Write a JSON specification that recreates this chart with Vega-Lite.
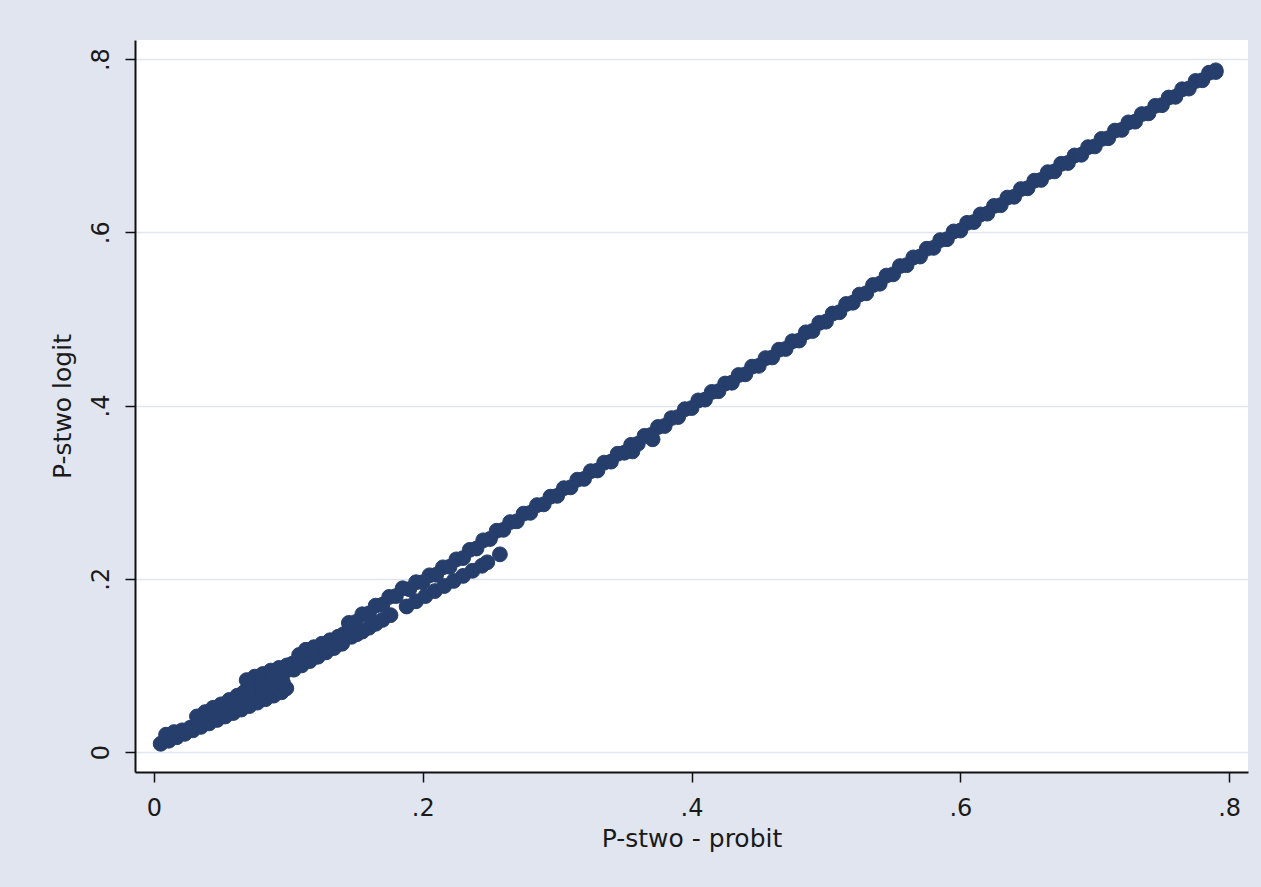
{
  "$schema": "https://vega.github.io/schema/vega-lite/v6.json",
  "width": 1113,
  "height": 732,
  "autosize": {"type": "none"},
  "padding": {"left": 135, "top": 40, "right": 13, "bottom": 115},
  "background": "#e1e5f0",
  "config": {"view": {"fill": "white", "stroke": null}, "font": "DejaVu Sans"},
  "data": {"values": [
    {"probit":0.005,"logit":0.0095},{"probit":0.011,"logit":0.013},{"probit":0.017,"logit":0.017},{"probit":0.023,"logit":0.021},{"probit":0.029,"logit":0.025},{"probit":0.035,"logit":0.029},{"probit":0.041,"logit":0.033},{"probit":0.047,"logit":0.037},{"probit":0.053,"logit":0.041},{"probit":0.059,"logit":0.045},{"probit":0.065,"logit":0.049},{"probit":0.071,"logit":0.053},{"probit":0.077,"logit":0.057},{"probit":0.083,"logit":0.061},{"probit":0.089,"logit":0.065},{"probit":0.095,"logit":0.069},{"probit":0.0985,"logit":0.0735},
    {"probit":0.009,"logit":0.020},{"probit":0.015,"logit":0.023},{"probit":0.021,"logit":0.025},{"probit":0.027,"logit":0.028},
    {"probit":0.032,"logit":0.041},{"probit":0.038,"logit":0.046},{"probit":0.044,"logit":0.051},{"probit":0.050,"logit":0.055},{"probit":0.056,"logit":0.060},{"probit":0.062,"logit":0.065},{"probit":0.067,"logit":0.069},
    {"probit":0.069,"logit":0.083},{"probit":0.075,"logit":0.087},{"probit":0.081,"logit":0.090},{"probit":0.087,"logit":0.094},{"probit":0.093,"logit":0.097},{"probit":0.099,"logit":0.100},{"probit":0.103,"logit":0.102},
    {"probit":0.045,"logit":0.0453},{"probit":0.055,"logit":0.0513},{"probit":0.064,"logit":0.058},{"probit":0.072,"logit":0.0648},{"probit":0.072,"logit":0.0753},{"probit":0.080,"logit":0.0699},{"probit":0.080,"logit":0.080},{"probit":0.088,"logit":0.0749},{"probit":0.088,"logit":0.0847},{"probit":0.096,"logit":0.080},{"probit":0.096,"logit":0.0894},
    {"probit":0.104,"logit":0.095},{"probit":0.110,"logit":0.100},{"probit":0.116,"logit":0.105},{"probit":0.122,"logit":0.110},{"probit":0.128,"logit":0.115},{"probit":0.134,"logit":0.120},{"probit":0.140,"logit":0.125},
    {"probit":0.108,"logit":0.112},{"probit":0.113,"logit":0.118},{"probit":0.119,"logit":0.121},{"probit":0.125,"logit":0.125},{"probit":0.131,"logit":0.129},{"probit":0.137,"logit":0.133},{"probit":0.141,"logit":0.136},
    {"probit":0.147,"logit":0.133},{"probit":0.151,"logit":0.136},
    {"probit":0.155,"logit":0.139},{"probit":0.160,"logit":0.1435},{"probit":0.165,"logit":0.148},{"probit":0.170,"logit":0.1525},{"probit":0.176,"logit":0.158},
    {"probit":0.188,"logit":0.168},{"probit":0.195,"logit":0.174},{"probit":0.202,"logit":0.180},{"probit":0.209,"logit":0.1858},{"probit":0.216,"logit":0.1916},{"probit":0.223,"logit":0.1975},{"probit":0.230,"logit":0.2033},{"probit":0.237,"logit":0.2092},{"probit":0.244,"logit":0.2150},{"probit":0.248,"logit":0.219},
    {"probit":0.2574,"logit":0.2282},
    {"probit":0.356,"logit":0.347},{"probit":0.371,"logit":0.361},
    {"probit":0.145,"logit":0.1490},{"probit":0.155,"logit":0.1590},{"probit":0.165,"logit":0.1690},{"probit":0.175,"logit":0.1790},{"probit":0.185,"logit":0.1890},{"probit":0.195,"logit":0.1960},{"probit":0.205,"logit":0.2040},{"probit":0.215,"logit":0.2132},{"probit":0.225,"logit":0.2224},{"probit":0.235,"logit":0.2334},{"probit":0.245,"logit":0.2444},{"probit":0.255,"logit":0.2554},{"probit":0.265,"logit":0.2654},{"probit":0.275,"logit":0.2752},{"probit":0.285,"logit":0.2850},{"probit":0.295,"logit":0.2948},{"probit":0.305,"logit":0.3046},{"probit":0.315,"logit":0.3144},{"probit":0.325,"logit":0.3242},{"probit":0.335,"logit":0.3341},{"probit":0.345,"logit":0.3443},{"probit":0.355,"logit":0.3546},{"probit":0.365,"logit":0.3650},{"probit":0.375,"logit":0.3752},{"probit":0.385,"logit":0.3855},{"probit":0.395,"logit":0.3958},{"probit":0.405,"logit":0.4059},{"probit":0.415,"logit":0.4157},{"probit":0.425,"logit":0.4254},{"probit":0.435,"logit":0.4352},{"probit":0.445,"logit":0.4449},{"probit":0.455,"logit":0.4547},{"probit":0.465,"logit":0.4644},{"probit":0.475,"logit":0.4742},{"probit":0.485,"logit":0.4845},{"probit":0.495,"logit":0.4954},{"probit":0.505,"logit":0.5062},{"probit":0.515,"logit":0.5172},{"probit":0.525,"logit":0.5281},{"probit":0.535,"logit":0.5391},{"probit":0.545,"logit":0.5500},{"probit":0.555,"logit":0.5610},{"probit":0.565,"logit":0.5710},{"probit":0.575,"logit":0.5810},{"probit":0.585,"logit":0.5910},{"probit":0.595,"logit":0.6010},{"probit":0.605,"logit":0.6109},{"probit":0.615,"logit":0.6206},{"probit":0.625,"logit":0.6304},{"probit":0.635,"logit":0.6401},{"probit":0.645,"logit":0.6499},{"probit":0.655,"logit":0.6596},{"probit":0.665,"logit":0.6694},{"probit":0.675,"logit":0.6791},{"probit":0.685,"logit":0.6887},{"probit":0.695,"logit":0.6983},{"probit":0.705,"logit":0.7078},{"probit":0.715,"logit":0.7174},{"probit":0.725,"logit":0.7269},{"probit":0.735,"logit":0.7365},{"probit":0.745,"logit":0.7460},{"probit":0.755,"logit":0.7556},{"probit":0.765,"logit":0.7651},{"probit":0.775,"logit":0.7747},{"probit":0.785,"logit":0.7842},
    {"probit":0.150,"logit":0.1500},{"probit":0.160,"logit":0.1600},{"probit":0.170,"logit":0.1700},{"probit":0.180,"logit":0.1800},{"probit":0.190,"logit":0.1880},{"probit":0.200,"logit":0.1960},{"probit":0.210,"logit":0.2046},{"probit":0.220,"logit":0.2138},{"probit":0.230,"logit":0.2239},{"probit":0.240,"logit":0.2349},{"probit":0.250,"logit":0.2459},{"probit":0.260,"logit":0.2565},{"probit":0.270,"logit":0.2663},{"probit":0.280,"logit":0.2761},{"probit":0.290,"logit":0.2859},{"probit":0.300,"logit":0.2957},{"probit":0.310,"logit":0.3055},{"probit":0.320,"logit":0.3153},{"probit":0.330,"logit":0.3250},{"probit":0.340,"logit":0.3352},{"probit":0.350,"logit":0.3455},{"probit":0.360,"logit":0.3558},{"probit":0.370,"logit":0.3661},{"probit":0.380,"logit":0.3764},{"probit":0.390,"logit":0.3867},{"probit":0.400,"logit":0.3970},{"probit":0.410,"logit":0.4068},{"probit":0.420,"logit":0.4165},{"probit":0.430,"logit":0.4263},{"probit":0.440,"logit":0.4360},{"probit":0.450,"logit":0.4458},{"probit":0.460,"logit":0.4555},{"probit":0.470,"logit":0.4653},{"probit":0.480,"logit":0.4750},{"probit":0.490,"logit":0.4860},{"probit":0.500,"logit":0.4968},{"probit":0.510,"logit":0.5077},{"probit":0.520,"logit":0.5187},{"probit":0.530,"logit":0.5296},{"probit":0.540,"logit":0.5406},{"probit":0.550,"logit":0.5515},{"probit":0.560,"logit":0.5620},{"probit":0.570,"logit":0.5720},{"probit":0.580,"logit":0.5820},{"probit":0.590,"logit":0.5920},{"probit":0.600,"logit":0.6020},{"probit":0.610,"logit":0.6118},{"probit":0.620,"logit":0.6215},{"probit":0.630,"logit":0.6313},{"probit":0.640,"logit":0.6410},{"probit":0.650,"logit":0.6508},{"probit":0.660,"logit":0.6605},{"probit":0.670,"logit":0.6703},{"probit":0.680,"logit":0.6800},{"probit":0.690,"logit":0.6895},{"probit":0.700,"logit":0.6991},{"probit":0.710,"logit":0.7086},{"probit":0.720,"logit":0.7182},{"probit":0.730,"logit":0.7277},{"probit":0.740,"logit":0.7373},{"probit":0.750,"logit":0.7468},{"probit":0.760,"logit":0.7564},{"probit":0.770,"logit":0.7659},{"probit":0.780,"logit":0.7755},{"probit":0.790,"logit":0.7850},
    {"probit":0.790,"logit":0.787}
  ]},
  "mark": {"type": "circle", "size": 220, "color": "#263e6c", "opacity": 1, "stroke": "#263e6c", "strokeWidth": 1},
  "encoding": {
    "x": {
      "field": "probit", "type": "quantitative",
      "scale": {"domain": [-0.0141, 0.814], "nice": false, "zero": false},
      "axis": {
        "values": [0, 0.2, 0.4, 0.6, 0.8],
        "labelExpr": "datum.value == 0 ? '0' : replace(format(datum.value, '.1f'), '0.', '.')",
        "grid": false,
        "title": "P-stwo - probit",
        "domainColor": "#111111", "domainWidth": 2,
        "tickColor": "#111111", "tickSize": 10, "tickWidth": 1.5,
        "labelFontSize": 24, "labelColor": "#1a1a1a", "labelPadding": 14,
        "titleFontSize": 25, "titleFontWeight": "normal", "titleColor": "#1a1a1a", "titlePadding": 6
      }
    },
    "y": {
      "field": "logit", "type": "quantitative",
      "scale": {"domain": [-0.0231, 0.822], "nice": false, "zero": false},
      "axis": {
        "values": [0, 0.2, 0.4, 0.6, 0.8],
        "labelExpr": "datum.value == 0 ? '0' : replace(format(datum.value, '.1f'), '0.', '.')",
        "grid": true, "gridColor": "#e1e5f0", "gridWidth": 1.5,
        "title": "P-stwo logit",
        "domainColor": "#111111", "domainWidth": 2,
        "tickColor": "#111111", "tickSize": 10, "tickWidth": 1.5,
        "labelAngle": -90, "labelAlign": "center", "labelBaseline": "alphabetic",
        "labelFontSize": 24, "labelColor": "#1a1a1a", "labelPadding": 17,
        "titleFontSize": 25, "titleFontWeight": "normal", "titleColor": "#1a1a1a", "titlePadding": 14
      }
    }
  }
}
